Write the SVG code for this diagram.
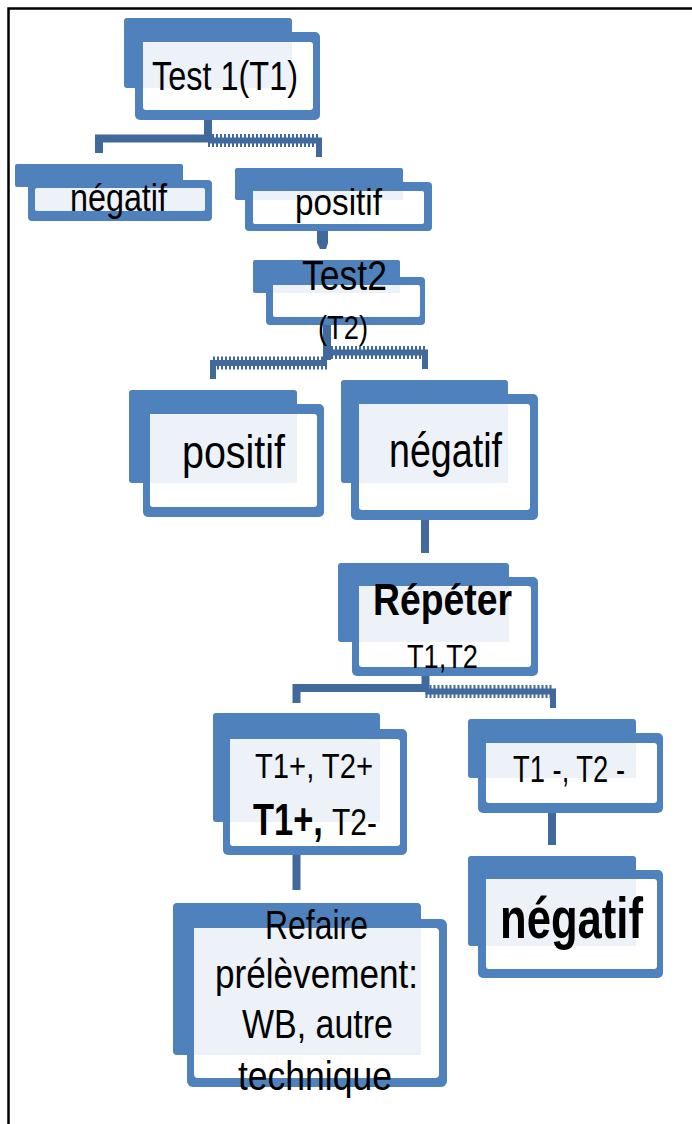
<svg xmlns="http://www.w3.org/2000/svg" width="692" height="1124" viewBox="0 0 692 1124">
<style>
.bk{fill:#4F81BD}
.fo{fill:#4F81BD}
.fi{fill:#FFFFFF}
.lt{fill:#EDF2F9}
.t{font-family:"Liberation Sans","Noto Sans",sans-serif;fill:#000;text-anchor:middle}
.s{text-anchor:start}
.b{font-weight:bold}
.cs{fill:none;stroke:#41699C;stroke-width:8;stroke-linejoin:miter}
.cd{fill:none;stroke:#41699C;stroke-width:13;stroke-dasharray:2 2}
.cc{fill:none;stroke:#41699C;stroke-width:6}
</style>
<rect x="0" y="0" width="692" height="1124" fill="#FFFFFF"/>
<path d="M8.5,1124 V8.5 H692" fill="none" stroke="#000" stroke-width="2.5"/>

<g id="connectors">
  <path class="cs" d="M99,153 V138.5 H208 V120"/>
  <path class="cd" d="M208,140.5 H319"/>
  <path class="cc" d="M208,140.5 H319 V157"/>
  <path d="M317,231 H328 V243 L326,249 H320 L317,243 Z" fill="#41699C"/>
  <path class="cs" d="M327,325 V360" stroke-width="6"/>
  <path class="cd" d="M213,363 H327"/>
  <path class="cc" d="M213,379 V363 H327"/>
  <path class="cd" d="M327,352.5 H425"/>
  <path class="cc" d="M327,352.5 H425 V369"/>
  <path class="cs" d="M425,520 V553" stroke-width="7"/>
  <path class="cs" d="M296.5,703 V688 H425.5 V676"/>
  <path class="cd" d="M425.5,691.5 H553"/>
  <path class="cc" d="M425.5,691.5 H553 V708"/>
  <path class="cs" d="M296.5,855 V890" stroke-width="7"/>
  <path class="cs" d="M552,813 V845"/>
</g>

<g id="node-test1">
  <rect class="bk" x="124" y="18" width="168" height="70" rx="3"/>
  <rect class="fo" x="135" y="32" width="185" height="88" rx="5"/>
  <rect class="fi" x="143" y="42" width="170" height="68" rx="3"/>
  <rect class="lt" x="143" y="42" width="149" height="46"/>
  <text class="t" x="225" y="90" font-size="40" textLength="146" lengthAdjust="spacingAndGlyphs">Test 1(T1)</text>
</g>

<g id="node-negatif1">
  <rect class="bk" x="15" y="164" width="168" height="23" rx="2"/>
  <rect class="fo" x="28" y="180" width="184" height="41" rx="4"/>
  <rect class="lt" x="35" y="188" width="170" height="23" rx="2"/>
  <text class="t" x="118.5" y="211" font-size="38" textLength="97" lengthAdjust="spacingAndGlyphs">négatif</text>
</g>

<g id="node-positif1">
  <rect class="bk" x="235" y="168" width="168" height="32" rx="2"/>
  <rect class="fo" x="245" y="182" width="187" height="49" rx="4"/>
  <rect class="fi" x="253" y="191" width="171" height="33" rx="2"/>
  <rect class="lt" x="253" y="191" width="150" height="9"/>
  <text class="t" x="338.5" y="215" font-size="36" textLength="87" lengthAdjust="spacingAndGlyphs">positif</text>
</g>

<g id="node-test2">
  <rect class="bk" x="253" y="260" width="147" height="33" rx="2"/>
  <rect class="fo" x="266" y="277" width="159" height="48" rx="4"/>
  <rect class="fi" x="273" y="285" width="147" height="32" rx="2"/>
  <rect class="lt" x="273" y="285" width="127" height="8"/>
  <text class="t" x="344.5" y="290" font-size="42" textLength="85" lengthAdjust="spacingAndGlyphs">Test2</text>
  <text class="t" x="343" y="339" font-size="34" textLength="50" lengthAdjust="spacingAndGlyphs">(T2)</text>
</g>

<g id="node-positif2">
  <rect class="bk" x="129" y="390" width="168" height="93" rx="3"/>
  <rect class="fo" x="143" y="404" width="181" height="113" rx="5"/>
  <rect class="fi" x="150" y="414" width="167" height="93" rx="3"/>
  <rect class="lt" x="150" y="414" width="147" height="69"/>
  <text class="t" x="233.5" y="468" font-size="46" textLength="103" lengthAdjust="spacingAndGlyphs">positif</text>
</g>

<g id="node-negatif2">
  <rect class="bk" x="341" y="380" width="167" height="103" rx="3"/>
  <rect class="fo" x="351" y="394" width="187" height="126" rx="5"/>
  <rect class="fi" x="359" y="404" width="171" height="106" rx="3"/>
  <rect class="lt" x="359" y="404" width="149" height="79"/>
  <text class="t" x="445.5" y="467" font-size="48" textLength="113" lengthAdjust="spacingAndGlyphs">négatif</text>
</g>

<g id="node-repeter">
  <rect class="bk" x="338" y="563" width="171" height="79" rx="3"/>
  <rect class="fo" x="352" y="577" width="186" height="99" rx="5"/>
  <rect class="fi" x="359" y="586" width="172" height="81" rx="3"/>
  <rect class="lt" x="359" y="586" width="150" height="56"/>
  <text class="t b" x="442.5" y="615" font-size="45" textLength="139" lengthAdjust="spacingAndGlyphs">Répéter</text>
  <text class="t" x="442.5" y="668" font-size="33" textLength="71" lengthAdjust="spacingAndGlyphs">T1,T2</text>
</g>

<g id="node-t1plus">
  <rect class="bk" x="213" y="713" width="167" height="109" rx="3"/>
  <rect class="fo" x="223" y="729" width="184" height="126" rx="5"/>
  <rect class="fi" x="230" y="739" width="170" height="107" rx="3"/>
  <rect class="lt" x="230" y="739" width="150" height="83"/>
  <text class="t" x="314" y="778" font-size="35" textLength="118" lengthAdjust="spacingAndGlyphs">T1+, T2+</text>
  <text class="t s b" transform="translate(253,835) scale(0.766,1)" x="0" y="0" font-size="45">T1+,</text>
  <text class="t s" transform="translate(332,835) scale(0.81,1)" x="0" y="0" font-size="37">T2-</text>
</g>

<g id="node-t1minus">
  <rect class="bk" x="468" y="719" width="168" height="59" rx="3"/>
  <rect class="fo" x="478" y="733" width="185" height="80" rx="5"/>
  <rect class="fi" x="486" y="743" width="171" height="60" rx="3"/>
  <rect class="lt" x="486" y="743" width="150" height="35"/>
  <text class="t" x="569" y="782" font-size="37" textLength="112" lengthAdjust="spacingAndGlyphs">T1 -, T2 -</text>
</g>

<g id="node-negatif3">
  <rect class="bk" x="468" y="856" width="168" height="90" rx="3"/>
  <rect class="fo" x="478" y="870" width="185" height="108" rx="5"/>
  <rect class="fi" x="486" y="879" width="171" height="90" rx="3"/>
  <rect class="lt" x="486" y="879" width="150" height="67"/>
  <text class="t b" x="571.5" y="938" font-size="58" textLength="143" lengthAdjust="spacingAndGlyphs">négatif</text>
</g>

<g id="node-refaire">
  <rect class="bk" x="173" y="903" width="248" height="152" rx="4"/>
  <rect class="fo" x="187" y="919" width="260" height="168" rx="6"/>
  <rect class="fi" x="194" y="928" width="245" height="150" rx="4"/>
  <rect class="lt" x="194" y="928" width="227" height="127"/>
  <text class="t" x="316.5" y="939" font-size="41" textLength="103" lengthAdjust="spacingAndGlyphs">Refaire</text>
  <text class="t" x="316.5" y="988" font-size="41" textLength="203" lengthAdjust="spacingAndGlyphs">prélèvement:</text>
  <text class="t" x="317.5" y="1038" font-size="41" textLength="151" lengthAdjust="spacingAndGlyphs">WB, autre</text>
  <text class="t" x="315" y="1090" font-size="41" textLength="154" lengthAdjust="spacingAndGlyphs">technique</text>
</g>
</svg>
